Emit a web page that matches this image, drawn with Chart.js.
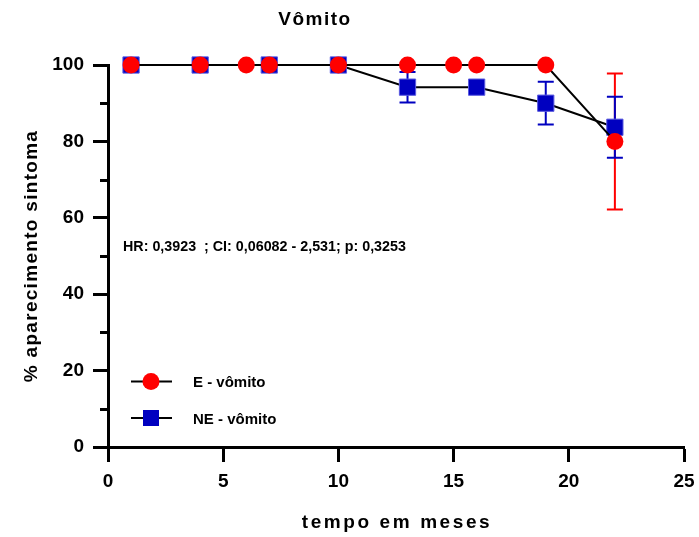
<!DOCTYPE html>
<html>
<head>
<meta charset="utf-8">
<script src="https://cdn.jsdelivr.net/npm/chart.js@4/dist/chart.umd.min.js"></script>
<style>
  html, body { margin: 0; padding: 0; background: #fff; }
  canvas { display: block; }
</style>
</head>
<body>
<canvas id="grafico" width="699" height="537"></canvas>
<script>
// Vômito — % aparecimento do sintoma ao longo do tempo (E x NE)

const FONTE = "'Liberation Sans', Arial, sans-serif";
const VERMELHO = "#ff0000";
const AZUL = "#0000c0";

// grupo E
const mesesE = [1, 4, 6, 7, 10, 13, 15, 16, 19, 22];
const valoresE = [100, 100, 100, 100, 100, 100, 100, 100, 100, 80];
const erroE = [0, 0, 0, 0, 0, 0, 0, 0, 0, 17.8];

// grupo NE
const mesesNE = [1, 4, 7, 10, 13, 16, 19, 22];
const valoresNE = [100, 100, 100, 100, 94.2, 94.2, 90, 83.7];
const erroNE = [0, 0, 0, 0, 4, 0, 5.6, 8];

const ticksX = [0, 5, 10, 15, 20, 25];
const ticksY = [0, 20, 40, 60, 80, 100];
const ticksYMenores = [10, 30, 50, 70, 90];

const titulo = "Vômito";
const tituloX = "tempo em meses";
const tituloY = "% aparecimento sintoma";
const legendas = ["E - vômito", "NE - vômito"];
const estatistica = "HR: 0,3923  ; CI: 0,06082 - 2,531; p: 0,3253";

const pontos = (xs, ys) => xs.map((x, i) => ({ x, y: ys[i] }));

function barrasErro(chart, xs, ys, erros, cor) {
  const ctx = chart.ctx, sx = chart.scales.x, sy = chart.scales.y;
  ctx.save();
  ctx.strokeStyle = cor;
  ctx.lineWidth = 2;
  xs.forEach((x, i) => {
    if (!erros[i]) return;
    const px = sx.getPixelForValue(x);
    const top = sy.getPixelForValue(ys[i] + erros[i]);
    const bot = sy.getPixelForValue(ys[i] - erros[i]);
    ctx.beginPath();
    ctx.moveTo(px, top); ctx.lineTo(px, bot);
    ctx.moveTo(px - 8, top); ctx.lineTo(px + 8, top);
    ctx.moveTo(px - 8, bot); ctx.lineTo(px + 8, bot);
    ctx.stroke();
  });
  ctx.restore();
}

function texto(ctx, str, x, y, tam, esp, align) {
  ctx.font = `bold ${tam}px ${FONTE}`;
  ctx.letterSpacing = esp + "px";
  ctx.textAlign = align || "left";
  ctx.fillText(str, x, y);
  ctx.letterSpacing = "0px";
}

const extras = {
  id: "extras",
  beforeDatasetsDraw(chart) {
    // barras de erro por baixo dos marcadores
    barrasErro(chart, mesesE, valoresE, erroE, VERMELHO);
    barrasErro(chart, mesesNE, valoresNE, erroNE, AZUL);

    // ticks menores do eixo y
    const ctx = chart.ctx, sy = chart.scales.y, left = chart.chartArea.left;
    ctx.save();
    ctx.strokeStyle = "#000";
    ctx.lineWidth = 3;
    ticksYMenores.forEach(v => {
      const py = Math.round(sy.getPixelForValue(v)) + 0.5;
      ctx.beginPath();
      ctx.moveTo(left - 8, py); ctx.lineTo(left, py);
      ctx.stroke();
    });
    ctx.restore();
  },
  afterDraw(chart) {
    const ctx = chart.ctx, a = chart.chartArea;
    ctx.save();
    ctx.fillStyle = "#000";
    ctx.textBaseline = "alphabetic";

    texto(ctx, titulo, 315, 25, 19, 1.5, "center");
    texto(ctx, tituloX, (a.left + a.right) / 2 + 1, 528, 19, 2.6, "center");

    ctx.save();
    ctx.translate(37, (a.top + a.bottom) / 2);
    ctx.rotate(-Math.PI / 2);
    texto(ctx, tituloY, 0, 0, 19, 1.3, "center");
    ctx.restore();

    texto(ctx, estatistica, a.left + 15, 251, 14.3, 0, "left");

    // legenda dentro da área do gráfico
    const linhas = [381.5, 418];
    linhas.forEach((ly, i) => {
      ctx.strokeStyle = "#000";
      ctx.lineWidth = 2;
      ctx.beginPath();
      ctx.moveTo(a.left + 23, ly); ctx.lineTo(a.left + 64, ly);
      ctx.stroke();
      const cx = a.left + 43;
      if (i === 0) {
        ctx.fillStyle = VERMELHO;
        ctx.beginPath(); ctx.arc(cx, ly, 8.5, 0, Math.PI * 2); ctx.fill();
      } else {
        ctx.fillStyle = AZUL;
        ctx.fillRect(cx - 8, ly - 8, 16, 16);
      }
      ctx.fillStyle = "#000";
      texto(ctx, legendas[i], a.left + 85, ly + 5.5, 15, 0, "left");
    });
    ctx.restore();
  }
};

new Chart(document.getElementById("grafico"), {
  type: "line",
  data: {
    datasets: [
      {
        label: legendas[0],
        data: pontos(mesesE, valoresE),
        borderColor: "#000", borderWidth: 2,
        pointStyle: "circle", pointRadius: 8.5,
        pointBackgroundColor: VERMELHO, pointBorderColor: VERMELHO, pointBorderWidth: 0,
        clip: false, order: 0,
      },
      {
        label: legendas[1],
        data: pontos(mesesNE, valoresNE),
        borderColor: "#000", borderWidth: 2,
        pointStyle: "rect", pointRadius: 11.5,
        pointBackgroundColor: AZUL, pointBorderColor: "#5a5ae0", pointBorderWidth: 1,
        clip: false, order: 1,
      },
    ],
  },
  options: {
    responsive: false,
    animation: false,
    events: [],
    layout: { padding: { top: 65, right: 15, left: 0, bottom: 0 } },
    plugins: { legend: { display: false }, tooltip: { enabled: false }, title: { display: false } },
    scales: {
      x: {
        type: "linear", min: 0, max: 25,
        afterBuildTicks: s => { s.ticks = ticksX.map(v => ({ value: v })); },
        afterFit: s => { s.height = 90; s.paddingLeft = 0; s.paddingRight = 0; },
        border: { display: true, width: 3, color: "#000" },
        grid: { drawOnChartArea: false, drawTicks: true, tickLength: 15, tickWidth: 3, tickColor: "#000" },
        ticks: { color: "#000", padding: 8, maxRotation: 0, font: { family: FONTE, size: 19, weight: "bold" } },
      },
      y: {
        type: "linear", min: 0, max: 100,
        afterBuildTicks: s => { s.ticks = ticksY.map(v => ({ value: v })); },
        afterFit: s => { s.width = 108; s.paddingTop = 0; s.paddingBottom = 0; },
        border: { display: true, width: 3, color: "#000" },
        grid: { drawOnChartArea: false, drawTicks: true, tickLength: 15, tickWidth: 3, tickColor: "#000" },
        ticks: { color: "#000", padding: 9, font: { family: FONTE, size: 19, weight: "bold" } },
      },
    },
  },
  plugins: [extras],
});
</script>
</body>
</html>
